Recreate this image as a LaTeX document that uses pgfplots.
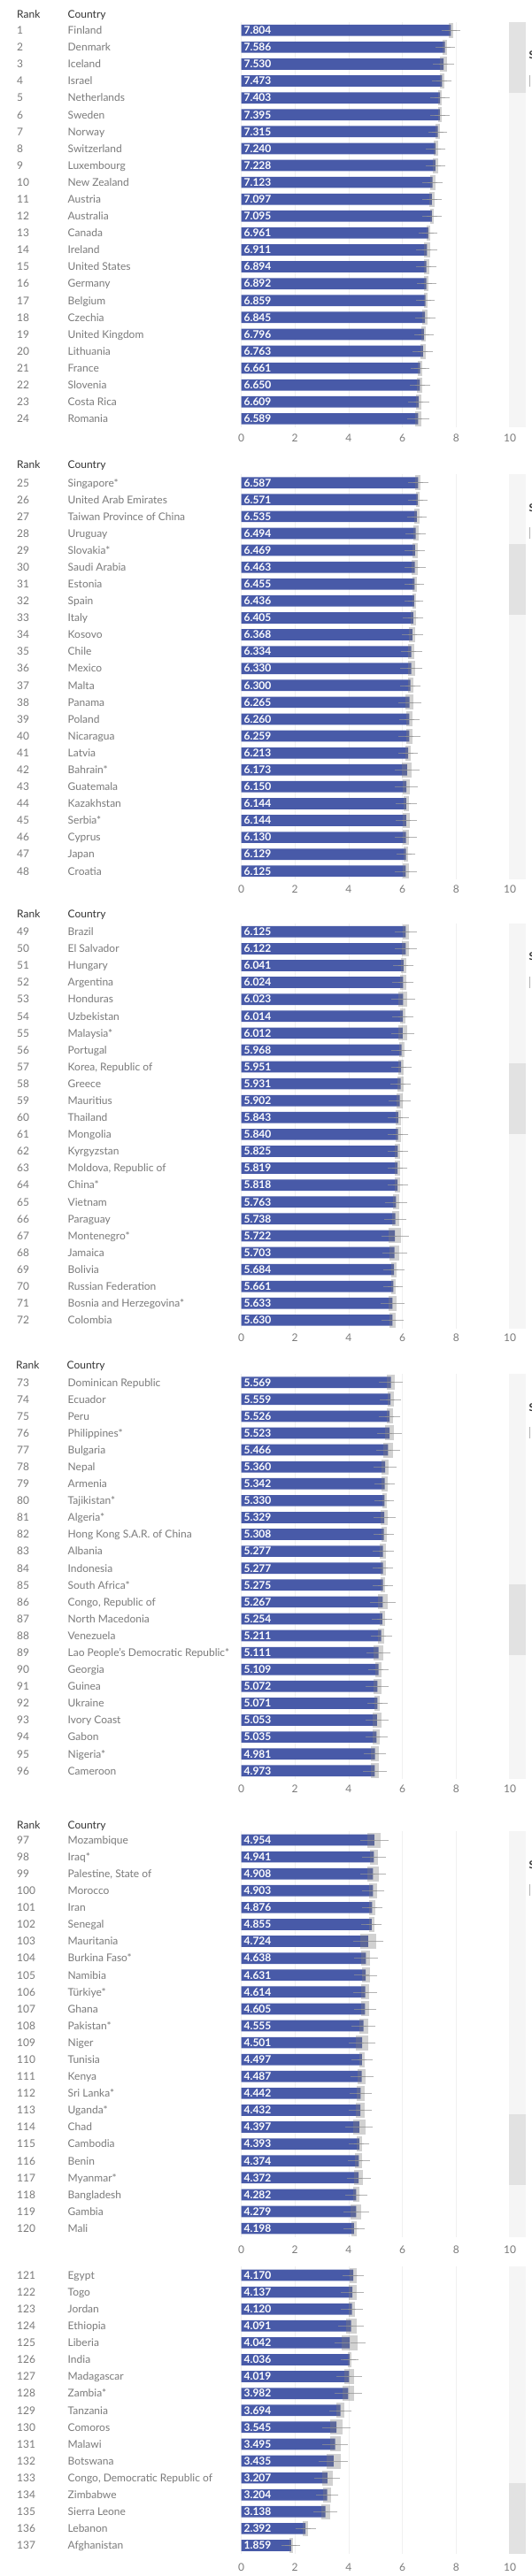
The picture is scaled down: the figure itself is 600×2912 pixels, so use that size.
\documentclass[border=0pt]{standalone}
\usepackage{pgfplots}
\usepackage{pgfplotstable}
\pgfplotsset{compat=1.18}
\usepackage{fontspec}
\setmainfont{Lato}
\definecolor{barblue}{RGB}{72,90,168}
\definecolor{txtgray}{RGB}{122,122,122}
\definecolor{hdrgray}{RGB}{51,51,51}
\definecolor{gridc}{RGB}{240,240,240}
\definecolor{stripc}{RGB}{245,245,245}
\definecolor{thumbc}{RGB}{226,226,226}
\newcommand\tf{\fontsize{12}{14.4}\selectfont}
\newcommand\RC[2]{\makebox[57.5pt][l]{#1}#2}

\pgfplotstableread{
r v e
1 7.804 0.071
2 7.586 0.081
3 7.530 0.120
4 7.473 0.087
5 7.403 0.073
6 7.395 0.079
7 7.315 0.077
8 7.240 0.083
9 7.228 0.093
10 7.123 0.098
11 7.097 0.086
12 7.095 0.075
13 6.961 0.066
14 6.911 0.112
15 6.894 0.092
16 6.892 0.077
17 6.859 0.068
18 6.845 0.095
19 6.796 0.076
20 6.763 0.100
21 6.661 0.072
22 6.650 0.094
23 6.609 0.111
24 6.589 0.121
}\Pone
\pgfplotstableread{
r v e
25 6.587 0.10
26 6.571 0.08
27 6.535 0.09
28 6.494 0.10
29 6.469 0.10
30 6.463 0.12
31 6.455 0.08
32 6.436 0.07
33 6.405 0.10
34 6.368 0.12
35 6.334 0.12
36 6.330 0.13
37 6.300 0.10
38 6.265 0.15
39 6.260 0.11
40 6.259 0.13
41 6.213 0.09
42 6.173 0.18
43 6.150 0.14
44 6.144 0.10
45 6.144 0.12
46 6.130 0.12
47 6.129 0.08
48 6.125 0.12
}\Ptwo
\pgfplotstableread{
r v e
49 6.125 0.12
50 6.122 0.13
51 6.041 0.10
52 6.024 0.11
53 6.023 0.17
54 6.014 0.11
55 6.012 0.15
56 5.968 0.10
57 5.951 0.10
58 5.931 0.10
59 5.902 0.12
60 5.843 0.11
61 5.840 0.10
62 5.825 0.10
63 5.819 0.09
64 5.818 0.10
65 5.763 0.12
66 5.738 0.13
67 5.722 0.23
68 5.703 0.18
69 5.684 0.11
70 5.661 0.08
71 5.633 0.15
72 5.630 0.12
}\Pthree
\pgfplotstableread{
r v e
73 5.569 0.16
74 5.559 0.12
75 5.526 0.12
76 5.523 0.17
77 5.466 0.17
78 5.360 0.14
79 5.342 0.11
80 5.330 0.09
81 5.329 0.13
82 5.308 0.10
83 5.277 0.12
84 5.277 0.10
85 5.275 0.09
86 5.267 0.19
87 5.254 0.10
88 5.211 0.12
89 5.111 0.17
90 5.109 0.11
91 5.072 0.15
92 5.071 0.10
93 5.053 0.16
94 5.035 0.13
95 4.981 0.14
96 4.973 0.16
}\Pfour
\pgfplotstableread{
r v e
97 4.954 0.25
98 4.941 0.15
99 4.908 0.20
100 4.903 0.14
101 4.876 0.10
102 4.855 0.10
103 4.724 0.29
104 4.638 0.16
105 4.631 0.15
106 4.614 0.15
107 4.605 0.14
108 4.555 0.17
109 4.501 0.22
110 4.497 0.10
111 4.487 0.15
112 4.442 0.14
113 4.432 0.16
114 4.397 0.23
115 4.393 0.10
116 4.374 0.13
117 4.372 0.17
118 4.282 0.12
119 4.279 0.20
120 4.198 0.11
}\Pfive
\pgfplotstableread{
r v e
121 4.170 0.12
122 4.137 0.15
123 4.120 0.13
124 4.091 0.20
125 4.042 0.30
126 4.036 0.06
127 4.019 0.19
128 3.982 0.22
129 3.694 0.14
130 3.545 0.24
131 3.495 0.20
132 3.435 0.27
133 3.207 0.20
134 3.204 0.14
135 3.138 0.17
136 2.392 0.10
137 1.859 0.065
}\Psix

\pgfplotsset{
  panel/.style={
    x=30.35pt, y=19.09pt, y dir=reverse,
    xmin=0, xmax=10, enlargelimits=false,
    anchor=north west, clip=false,
    axis line style={draw=none},
    major tick length=0pt,
    xtick={0,2,4,6,8,10},
    xmajorgrids, grid style={gridc, line width=0.7pt},
    /pgf/number format/assume math mode=true,
    tick label style={font=\tf, text=txtgray},
    yticklabel style={anchor=base west, xshift=-253.5pt, yshift=-4.3pt, inner sep=0pt},
    xticklabel style={anchor=base, inner sep=0pt},
  },
  ci/.style={draw=none, mark=none, forget plot,
    error bars/.cd, x dir=both, x explicit,
    error bar style={draw=gray, line width=17pt, opacity=0.36},
    error mark options={draw=gray!85, line width=0.5pt, mark size=8.5pt, opacity=0.7}},
  vals/.style={draw=none, mark=none, forget plot, point meta=explicit,
    nodes near coords={\pgfmathprintnumber[fixed, fixed zerofill, precision=3]{\pgfplotspointmeta}},
    every node near coord/.style={anchor=base west, xshift=3pt, yshift=-4.3pt, inner sep=0pt, text=white, font=\tf\bfseries}},
  bars/.style={xbar, bar shift=0pt, bar width=12.7pt, fill=barblue, draw=none, forget plot},
}
\newcommand\drawpanel[1]{%
  \addplot[bars] table[x=v, y=r] {#1};
  \addplot[ci] table[x=v, y=r, x error=e] {#1};
  \addplot[vals] table[x expr=0, y=r, meta=v] {#1};
}
\tikzset{hdr/.style={anchor=base west, inner sep=0pt, text=hdrgray, font=\tf}}

\begin{document}
\begin{tikzpicture}
\useasboundingbox (0,0) rectangle (600pt,-2912pt);

% Panel 1
\node[hdr] at (19pt,-20.3pt) {Rank};
\node[hdr] at (76.5pt,-20.3pt) {Country};
\begin{axis}[panel, at={(272.5pt,-24.75pt)}, ymin=0.5, ymax=24.5, ytick={1,...,24},
  xticklabel style={yshift=-16.35pt},
  yticklabels={\RC{1}{Finland},\RC{2}{Denmark},\RC{3}{Iceland},\RC{4}{Israel},\RC{5}{Netherlands},\RC{6}{Sweden},\RC{7}{Norway},\RC{8}{Switzerland},\RC{9}{Luxembourg},\RC{10}{New Zealand},\RC{11}{Austria},\RC{12}{Australia},\RC{13}{Canada},\RC{14}{Ireland},\RC{15}{United States},\RC{16}{Germany},\RC{17}{Belgium},\RC{18}{Czechia},\RC{19}{United Kingdom},\RC{20}{Lithuania},\RC{21}{France},\RC{22}{Slovenia},\RC{23}{Costa Rica},\RC{24}{Romania}}]
\drawpanel{\Pone}
\end{axis}

% Panel 2
\node[hdr] at (19pt,-529.3pt) {Rank};
\node[hdr] at (76.5pt,-529.3pt) {Country};
\begin{axis}[panel, at={(272.5pt,-536.15pt)}, ymin=24.5, ymax=48.5, ytick={25,...,48},
  xticklabel style={yshift=-15pt},
  yticklabels={\RC{25}{Singapore*},\RC{26}{United Arab Emirates},\RC{27}{Taiwan Province of China},\RC{28}{Uruguay},\RC{29}{Slovakia*},\RC{30}{Saudi Arabia},\RC{31}{Estonia},\RC{32}{Spain},\RC{33}{Italy},\RC{34}{Kosovo},\RC{35}{Chile},\RC{36}{Mexico},\RC{37}{Malta},\RC{38}{Panama},\RC{39}{Poland},\RC{40}{Nicaragua},\RC{41}{Latvia},\RC{42}{Bahrain*},\RC{43}{Guatemala},\RC{44}{Kazakhstan},\RC{45}{Serbia*},\RC{46}{Cyprus},\RC{47}{Japan},\RC{48}{Croatia}}]
\drawpanel{\Ptwo}
\end{axis}

% Panel 3
\node[hdr] at (19pt,-1037pt) {Rank};
\node[hdr] at (76.5pt,-1037pt) {Country};
\begin{axis}[panel, at={(272.5pt,-1043.75pt)}, ymin=48.5, ymax=72.5, ytick={49,...,72},
  xticklabel style={yshift=-14.1pt},
  yticklabels={\RC{49}{Brazil},\RC{50}{El Salvador},\RC{51}{Hungary},\RC{52}{Argentina},\RC{53}{Honduras},\RC{54}{Uzbekistan},\RC{55}{Malaysia*},\RC{56}{Portugal},\RC{57}{Korea, Republic of},\RC{58}{Greece},\RC{59}{Mauritius},\RC{60}{Thailand},\RC{61}{Mongolia},\RC{62}{Kyrgyzstan},\RC{63}{Moldova, Republic of},\RC{64}{China*},\RC{65}{Vietnam},\RC{66}{Paraguay},\RC{67}{Montenegro*},\RC{68}{Jamaica},\RC{69}{Bolivia},\RC{70}{Russian Federation},\RC{71}{Bosnia and Herzegovina*},\RC{72}{Colombia}}]
\drawpanel{\Pthree}
\end{axis}

% Panel 4
\node[hdr] at (18pt,-1547.6pt) {Rank};
\node[hdr] at (75.5pt,-1547.6pt) {Country};
\begin{axis}[panel, at={(272.5pt,-1553.15pt)}, ymin=72.5, ymax=96.5, ytick={73,...,96},
  xticklabel style={yshift=-15pt},
  yticklabels={\RC{73}{Dominican Republic},\RC{74}{Ecuador},\RC{75}{Peru},\RC{76}{Philippines*},\RC{77}{Bulgaria},\RC{78}{Nepal},\RC{79}{Armenia},\RC{80}{Tajikistan*},\RC{81}{Algeria*},\RC{82}{Hong Kong S.A.R. of China},\RC{83}{Albania},\RC{84}{Indonesia},\RC{85}{South Africa*},\RC{86}{Congo, Republic of},\RC{87}{North Macedonia},\RC{88}{Venezuela},\RC{89}{Lao People’s Democratic Republic*},\RC{90}{Georgia},\RC{91}{Guinea},\RC{92}{Ukraine},\RC{93}{Ivory Coast},\RC{94}{Gabon},\RC{95}{Nigeria*},\RC{96}{Cameroon}}]
\drawpanel{\Pfour}
\end{axis}

% Panel 5
\node[hdr] at (19pt,-2067pt) {Rank};
\node[hdr] at (76.5pt,-2067pt) {Country};
\begin{axis}[panel, at={(272.5pt,-2070.45pt)}, ymin=96.5, ymax=120.5, ytick={97,...,120},
  xticklabel style={yshift=-18.4pt},
  yticklabels={\RC{97}{Mozambique},\RC{98}{Iraq*},\RC{99}{Palestine, State of},\RC{100}{Morocco},\RC{101}{Iran},\RC{102}{Senegal},\RC{103}{Mauritania},\RC{104}{Burkina Faso*},\RC{105}{Namibia},\RC{106}{Türkiye*},\RC{107}{Ghana},\RC{108}{Pakistan*},\RC{109}{Niger},\RC{110}{Tunisia},\RC{111}{Kenya},\RC{112}{Sri Lanka*},\RC{113}{Uganda*},\RC{114}{Chad},\RC{115}{Cambodia},\RC{116}{Benin},\RC{117}{Myanmar*},\RC{118}{Bangladesh},\RC{119}{Gambia},\RC{120}{Mali}}]
\drawpanel{\Pfive}
\end{axis}

% Panel 6
\begin{axis}[panel, at={(272.5pt,-2562.45pt)}, ymin=120.5, ymax=137.5, ytick={121,...,137},
  xticklabel style={yshift=-19pt},
  yticklabels={\RC{121}{Egypt},\RC{122}{Togo},\RC{123}{Jordan},\RC{124}{Ethiopia},\RC{125}{Liberia},\RC{126}{India},\RC{127}{Madagascar},\RC{128}{Zambia*},\RC{129}{Tanzania},\RC{130}{Comoros},\RC{131}{Malawi},\RC{132}{Botswana},\RC{133}{Congo, Democratic Republic of},\RC{134}{Zimbabwe},\RC{135}{Sierra Leone},\RC{136}{Lebanon},\RC{137}{Afghanistan}}]
\drawpanel{\Psix}
\end{axis}

% scroll strips
\foreach \t/\b/\ta in {24.75/483/24.75, 536.15/994.3/615, 1043.75/1501.9/1202, 1553.15/2011.3/1791, 2070.45/2528.6/2390, 2562.45/2887/2807}{
  \fill[stripc] (575pt,-\t pt) rectangle (594pt,-\b pt);
  \fill[thumbc] (575pt,-\ta pt) rectangle (594pt,-\ta pt-80pt);
}
\foreach \t in {24.75, 536.15, 1043.75, 1553.15, 2070.45}{
  \node[hdr, font=\tf\bfseries] at (597.5pt,-\t pt-42pt) {S};
  \draw[gray!60, line width=0.6pt] (598.5pt,-\t pt-60pt) -- (598.5pt,-\t pt-73pt);
}
\end{tikzpicture}
\end{document}
